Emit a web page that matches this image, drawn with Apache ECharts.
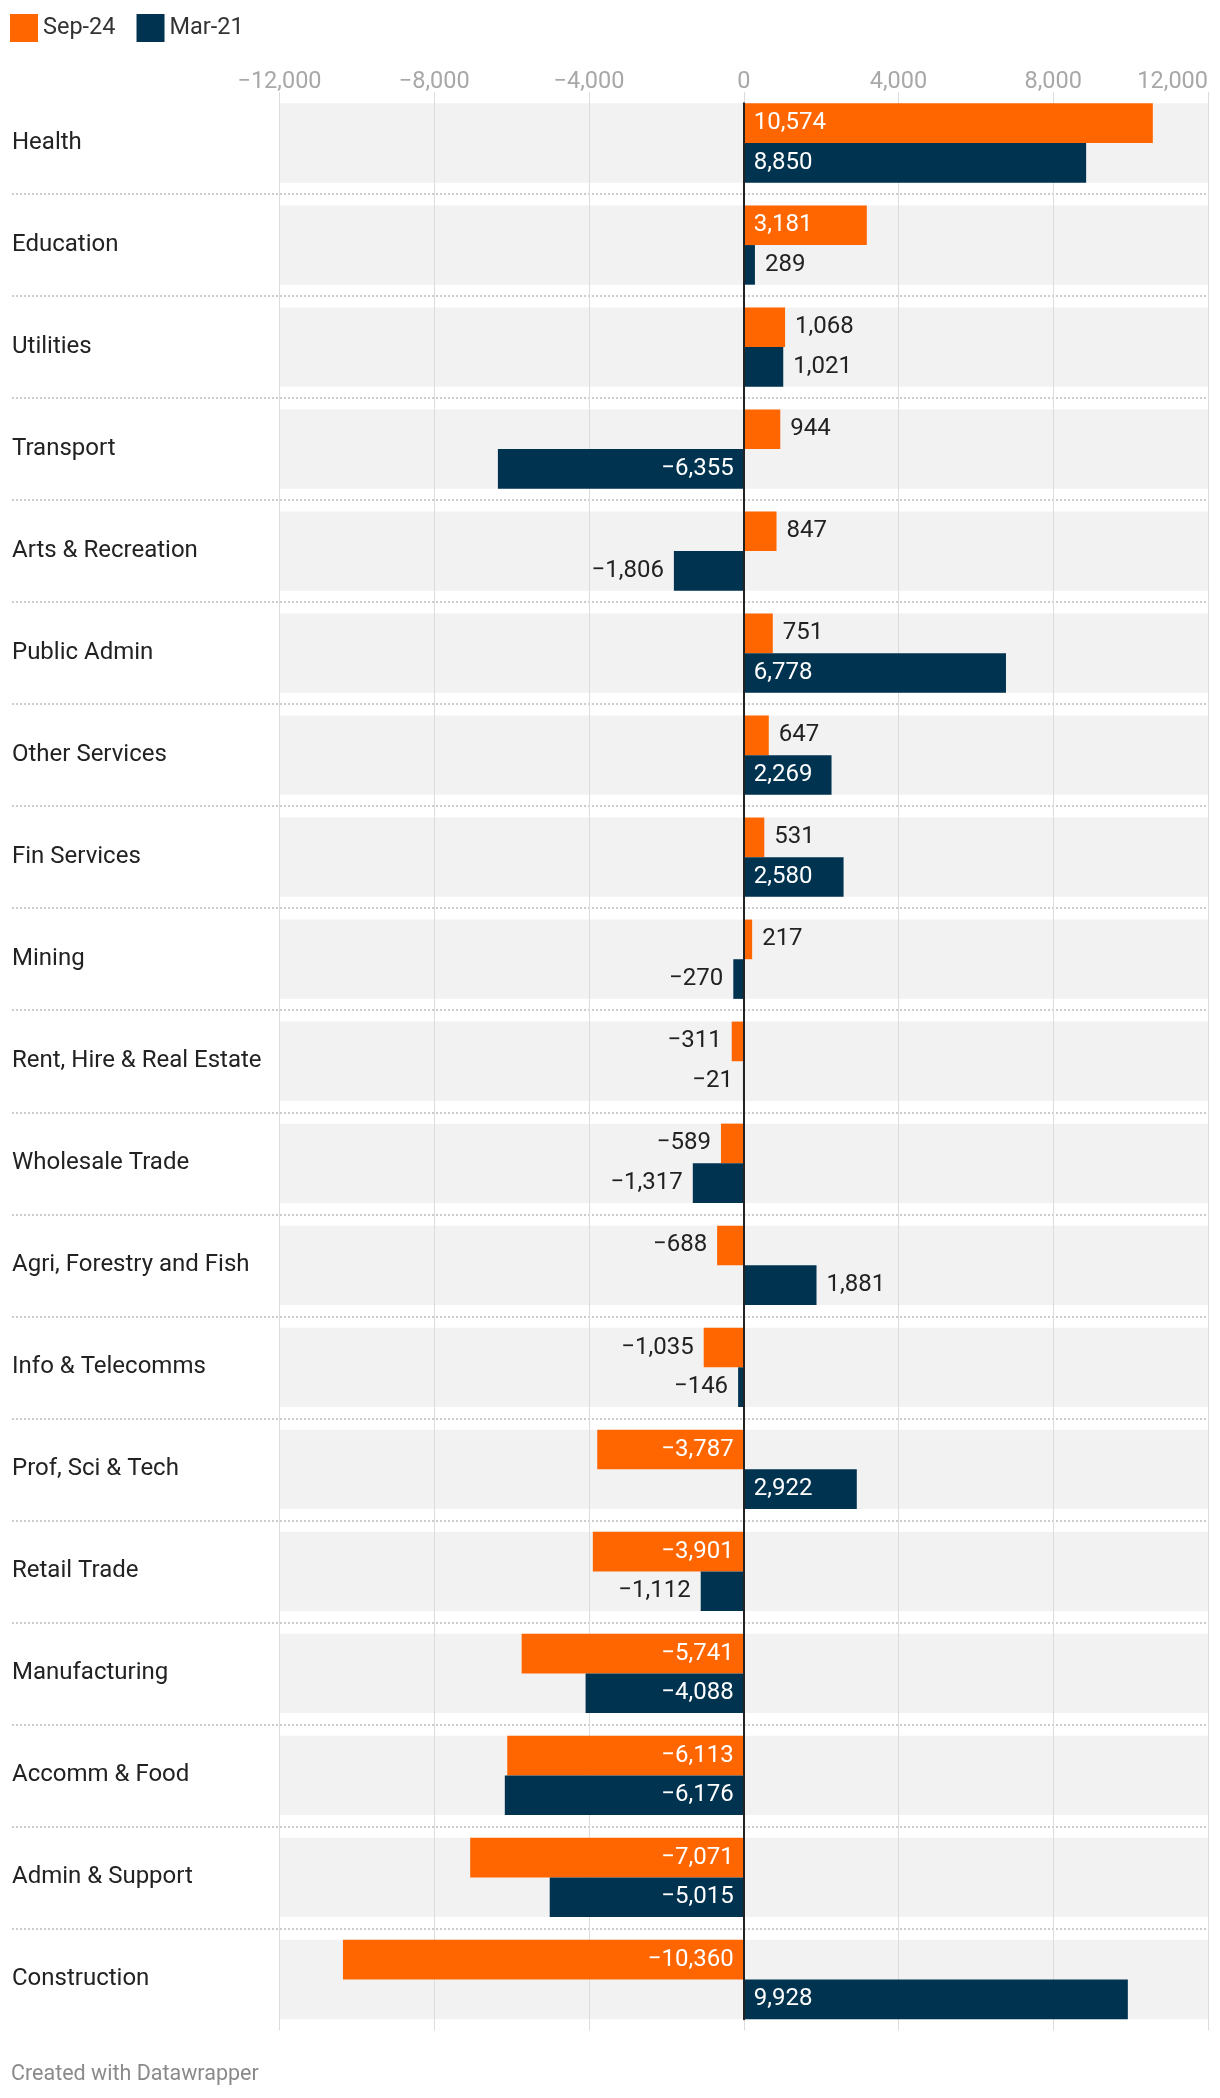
<!DOCTYPE html>
<html>
<head>
<meta charset="utf-8">
<script src="https://cdn.jsdelivr.net/npm/echarts@6/dist/echarts.min.js"></script>
<style>
  html, body { margin: 0; padding: 0; background: #fff; }
  #chart { width: 1220px; height: 2098px; }
</style>
</head>
<body>
<div id="chart"></div>
<script>
const categories = ['Health','Education','Utilities','Transport','Arts & Recreation','Public Admin','Other Services','Fin Services','Mining','Rent, Hire & Real Estate','Wholesale Trade','Agri, Forestry and Fish','Info & Telecomms','Prof, Sci & Tech','Retail Trade','Manufacturing','Accomm & Food','Admin & Support','Construction'];
const seriesNames = ['Sep-24', 'Mar-21'];
const sep24 = [10574,3181,1068,944,847,751,647,531,217,-311,-589,-688,-1035,-3787,-3901,-5741,-6113,-7071,-10360];
const mar21 = [8850,289,1021,-6355,-1806,6778,2269,2580,-270,-21,-1317,1881,-146,2922,-1112,-4088,-6176,-5015,9928];
const axisMin = -12000, axisMax = 12000, axisStep = 4000;

const FONT = 'Roboto, "Noto Sans", sans-serif';
const fmt = v => (v < 0 ? '\u2212' : '') + Math.abs(v).toLocaleString('en-US');

function items(values) {
  return values.map(v => {
    const inside = Math.abs(v) >= 2000;
    let position;
    if (v >= 0) position = inside ? 'insideLeft' : 'right';
    else position = inside ? 'insideRight' : 'left';
    return {
      value: v,
      label: { position: position, color: inside ? '#ffffff' : '#222222' }
    };
  });
}

const chart = echarts.init(document.getElementById('chart'), null, { renderer: 'canvas' });
const gridTop = 92, gridBottom = 67.5, gridLeft = 279.5, gridRight = 12;
const bandTop = 103.3, bandBottom = 78.7;

chart.setOption({
  animation: false,
  textStyle: { fontFamily: FONT },
  title: {
    text: 'Created with Datawrapper',
    left: 11, top: 2064, padding: 0,
    textStyle: { fontFamily: FONT, fontSize: 21.5, fontWeight: 'normal', color: '#8a8a8a' }
  },
  legend: {
    data: seriesNames,
    left: 10, top: 14, padding: 0,
    itemWidth: 28, itemHeight: 28, itemGap: 21,
    icon: 'rect',
    textStyle: { fontFamily: FONT, fontSize: 23.5, color: '#333' }
  },
  grid: [
    { left: 12, right: gridRight, top: gridTop, bottom: gridBottom },
    { left: gridLeft, right: gridRight, top: gridTop, bottom: gridBottom },
    { left: gridLeft, right: gridRight, top: bandTop, bottom: bandBottom }
  ],
  xAxis: [
    { gridIndex: 0, type: 'value', min: 0, max: 1, show: false },
    {
      gridIndex: 1, type: 'value', position: 'top', z: 1,
      min: axisMin, max: axisMax, interval: axisStep,
      axisLine: { show: false }, axisTick: { show: false },
      axisLabel: {
        color: '#a8a8a8', fontFamily: FONT, fontSize: 23.5, margin: -2.5,
        formatter: fmt, alignMaxLabel: 'right'
      },
      splitLine: { show: true, lineStyle: { color: '#dcdcdc', width: 1 } }
    },
    {
      gridIndex: 2, type: 'value', min: axisMin, max: axisMax, show: false
    }
  ],
  yAxis: [
    {
      gridIndex: 0, type: 'category', data: categories, inverse: true,
      axisLine: { show: false }, axisTick: { show: false }, axisLabel: { show: false },
      splitLine: { show: true, showMinLine: false, showMaxLine: false,
        lineStyle: { type: [2, 2], color: '#cccccc', width: 2 } }
    },
    {
      gridIndex: 1, type: 'category', data: categories, inverse: true,
      axisLine: { show: false, onZero: false }, axisTick: { show: false },
      splitLine: { show: false },
      axisLabel: { align: 'left', margin: gridLeft - 12, color: '#222', fontFamily: FONT, fontSize: 24, padding: [7, 0, 0, 0] }
    },
    {
      gridIndex: 1, type: 'category', data: categories, inverse: true, show: false
    },
    {
      gridIndex: 2, type: 'value', min: 0, max: 1, z: 5,
      axisLine: { show: true, onZero: true, lineStyle: { color: '#222', width: 2 } },
      axisTick: { show: false }, axisLabel: { show: false }, splitLine: { show: false }
    }
  ],
  series: [
    {
      name: 'band', type: 'bar', xAxisIndex: 1, yAxisIndex: 2, z: 0, silent: true,
      data: categories.map(() => 0),
      barWidth: 79.3,
      showBackground: true,
      backgroundStyle: { color: '#f2f2f2' },
      itemStyle: { color: 'rgba(0,0,0,0)' },
      label: { show: false }
    },
    {
      name: seriesNames[0], type: 'bar', xAxisIndex: 1, yAxisIndex: 1, z: 2,
      data: items(sep24), barWidth: 39.65, barGap: '0%',
      itemStyle: { color: '#ff6600' },
      label: { show: true, distance: 10, fontFamily: FONT, fontSize: 24, padding: [3, 0, 0, 0], formatter: p => fmt(p.value) }
    },
    {
      name: seriesNames[1], type: 'bar', xAxisIndex: 1, yAxisIndex: 1, z: 2,
      data: items(mar21), barWidth: 39.65, barGap: '0%',
      itemStyle: { color: '#003350' },
      label: { show: true, distance: 10, fontFamily: FONT, fontSize: 24, padding: [3, 0, 0, 0], formatter: p => fmt(p.value) }
    }
  ]
});
</script>
</body>
</html>
